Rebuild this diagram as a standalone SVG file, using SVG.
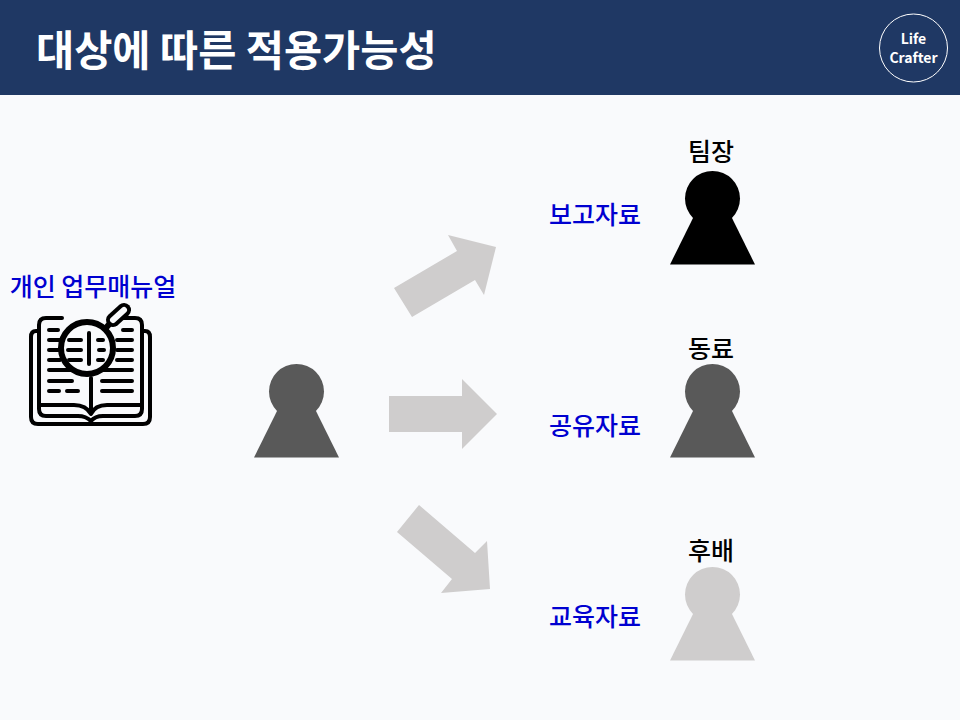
<svg xmlns="http://www.w3.org/2000/svg" width="960" height="720" viewBox="0 0 960 720">
<style>
.t{font-family:"Noto Sans CJK KR","Noto Sans",sans-serif}
.blue{font-size:25px;font-weight:500;fill:#0000d0}
.who{font-size:25px;font-weight:500;fill:#000;text-anchor:middle}
.arrow{fill:#cfcdcd}
.ic{fill:none;stroke:#000;stroke-width:4;stroke-linecap:round;stroke-linejoin:round}
.ln{fill:none;stroke:#000;stroke-width:4;stroke-linecap:round}
</style>
<defs>
<g id="person"><circle cx="0" cy="27.500" r="27.500"/><path d="M-18 44H18L42.500 93.500H-42.500Z"/></g>
</defs>
<rect width="960" height="720" fill="#f9fafc"/>
<rect width="960" height="95" fill="#1f3864"/>
<text class="t" x="36" y="66" font-size="41.500" font-weight="700" fill="#fff">대상에 따른 적용가능성</text>
<g id="logo">
<circle cx="913.500" cy="48" r="34" fill="none" stroke="#fff" stroke-width="1"/>
<text class="t" x="913.500" y="44" font-size="14" font-weight="700" fill="#fff" text-anchor="middle">Life</text>
<text class="t" x="913.500" y="63" font-size="14" font-weight="700" fill="#fff" text-anchor="middle">Crafter</text>
</g>
<g id="manual">
<text class="t blue" x="93" y="296" text-anchor="middle">개인 업무매뉴얼</text>
<g id="book-icon">
<path class="ic" d="M38 331H36Q31 331 31 337V417Q31 424 38 424H143Q150 424 150 417V337Q150 331 145 331H143"/>
<path class="ic" d="M62 318H46Q39 318 39 325V409Q39 416 46 416H78Q86 416 91 421Q95 416 103 416H135Q142 416 142 409V325Q142 318 135 318H112"/>
<path class="ic" d="M41 405H74Q86 405 91 414Q95 405 107 405H140"/>
<path class="ic" d="M91 378V412"/>
<path class="ln" d="M49 330H58M49 340H60M49 350H60M49 360H60M49 370H132M49 381H72M49 391H59M67 391H78M102 381H132M102 391H132M123 330H132M117 340H132M117 350H132M117 360H132"/>
<circle cx="87" cy="348" r="26" fill="#f9fafc" stroke="#000" stroke-width="6"/>
<path class="ln" d="M89 333V364"/>
<path class="ln" d="M69 340H81M68 350H81M69 360H81M98 340H103M99 350H104M98 360H103"/>
<path d="M105 329L112 321" fill="none" stroke="#000" stroke-width="6"/>
<path d="M113 320L124 310" fill="none" stroke="#000" stroke-width="14" stroke-linecap="round"/>
<path d="M113 320L124 310" fill="none" stroke="#f9fafc" stroke-width="6" stroke-linecap="round"/>
</g>
</g>
<g id="source"><use href="#person" x="296.500" y="364" fill="#595959"/></g>
<g id="connectors">
<path class="arrow" d="M394 288L457 251L448 235L496 247L484 295L475 280L412 317Z"/>
<path class="arrow" d="M389 396H462V379L497 414L462 449V432H389Z"/>
<path class="arrow" d="M419 505L475 553L487 541L490 589L441 593L452 579L397 532Z"/>
</g>
<g id="lead">
<text class="t who" x="711" y="161">팀장</text>
<use href="#person" x="712.500" y="171" fill="#000"/>
<text class="t blue" x="549" y="224">보고자료</text>
</g>
<g id="peer">
<text class="t who" x="711" y="358">동료</text>
<use href="#person" x="712.500" y="364" fill="#595959"/>
<text class="t blue" x="549" y="435">공유자료</text>
</g>
<g id="junior">
<text class="t who" x="711" y="560">후배</text>
<use href="#person" x="712.500" y="567" fill="#cfcdcd"/>
<text class="t blue" x="549" y="626">교육자료</text>
</g>
</svg>
